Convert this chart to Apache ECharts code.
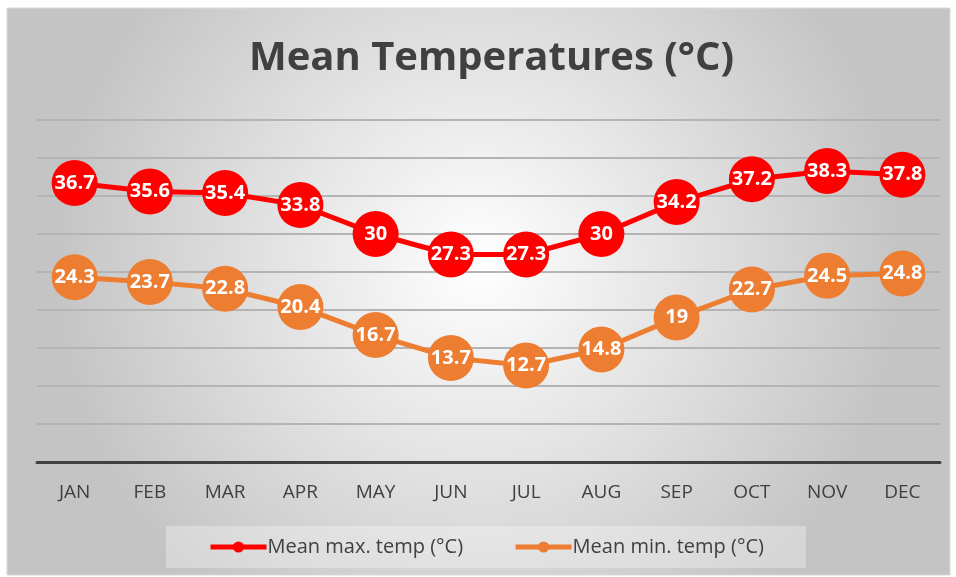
<!DOCTYPE html>
<html>
<head>
<meta charset="utf-8">
<script src="https://cdn.jsdelivr.net/npm/echarts@6/dist/echarts.min.js"></script>
<style>
  html, body { margin: 0; padding: 0; background: #fff; }
  #chart { width: 956px; height: 577px; }
</style>
</head>
<body>
<div id="chart"></div>
<script>
var months = ['JAN', 'FEB', 'MAR', 'APR', 'MAY', 'JUN', 'JUL', 'AUG', 'SEP', 'OCT', 'NOV', 'DEC'];
var maxTemp = [36.7, 35.6, 35.4, 33.8, 30, 27.3, 27.3, 30, 34.2, 37.2, 38.3, 37.8];
var minTemp = [24.3, 23.7, 22.8, 20.4, 16.7, 13.7, 12.7, 14.8, 19, 22.7, 24.5, 24.8];

var chart = echarts.init(document.getElementById('chart'));

var font = '"Open Sans", "Noto Sans", sans-serif';

function lineSeries(name, data, color) {
  return {
    name: name,
    type: 'line',
    data: data,
    symbol: 'circle',
    symbolSize: 46,
    itemStyle: { color: color },
    lineStyle: { color: color, width: 5 },
    label: {
      show: true,
      position: 'inside',
      color: '#fff',
      fontWeight: 'bold',
      fontSize: 20,
      fontFamily: font
    },
    z: 3
  };
}

var option = {
  animation: false,
  graphic: [
    {
      type: 'rect',
      z: -10,
      silent: true,
      shape: { x: 7, y: 8, width: 943, height: 567 },
      style: {
        fill: new echarts.graphic.RadialGradient(0.5, 0.45, 0.75, [
          { offset: 0, color: '#ffffff' },
          { offset: 1, color: '#c4c4c4' }
        ]),
        stroke: '#d9d9d9',
        lineWidth: 1
      }
    }
  ],
  title: {
    text: 'Mean Temperatures (°C)',
    left: 244,
    top: 34,
    textStyle: {
      fontFamily: font,
      fontWeight: 'bold',
      fontSize: 40,
      color: '#404040'
    }
  },
  legend: {
    bottom: 9,
    left: 166,
    itemWidth: 56,
    itemHeight: 14,
    itemGap: 50,
    padding: [11, 42, 11, 42],
    backgroundColor: 'rgba(255,255,255,0.3)',
    lineStyle: { width: 5 },
    textStyle: { fontFamily: font, fontSize: 20, color: '#404040', padding: [0, 0, 0, -4] }
  },
  grid: { left: 37, right: 16, top: 120, bottom: 115, containLabel: false },
  xAxis: {
    type: 'category',
    data: months,
    boundaryGap: true,
    axisLine: { lineStyle: { color: '#404040', width: 3 } },
    axisTick: { show: false },
    axisLabel: { fontFamily: font, fontSize: 19, color: '#404040', margin: 21 }
  },
  yAxis: {
    type: 'value',
    min: 0,
    max: 45,
    interval: 5,
    axisLabel: { show: false },
    axisLine: { show: false },
    axisTick: { show: false },
    splitLine: { lineStyle: { color: '#b4b4b4', width: 2 } }
  },
  series: [
    lineSeries('Mean max. temp (°C)', maxTemp, '#ff0000'),
    lineSeries('Mean min. temp (°C)', minTemp, '#ed7d31')
  ]
};

chart.setOption(option);
</script>
</body>
</html>
